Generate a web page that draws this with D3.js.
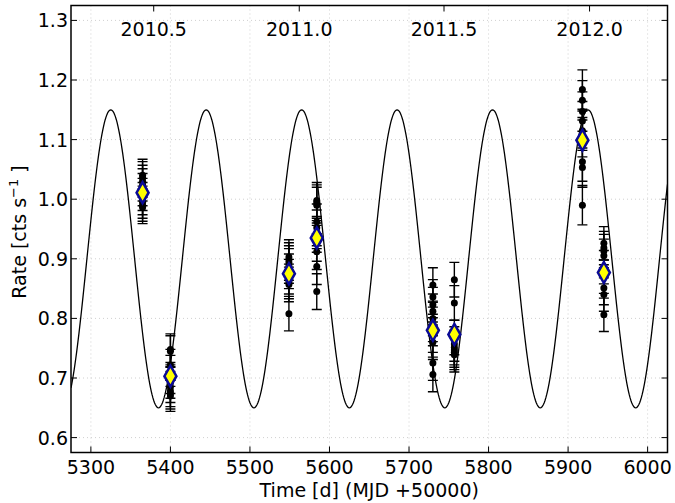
<!DOCTYPE html>
<html>
<head>
<meta charset="utf-8">
<script src="https://cdn.jsdelivr.net/npm/d3@7"></script>
<style>
  body { margin: 0; background: #fff; }
  svg text { font-family: "DejaVu Sans", sans-serif; fill: #000; }
</style>
</head>
<body>
<svg id="chart" width="675" height="503"></svg>
<script>
// observation epochs (MJD - 50000) and the binned mean rate of each
var epochs = [5365, 5400, 5549, 5584, 5730, 5757, 5918, 5945]
var meanRate = [1.011, 0.703, 0.875, 0.935, 0.780, 0.773, 1.099, 0.877]
// individual points per epoch
var rates = [
  [1.040, 1.036, 1.030, 1.024, 1.016, 1.008, 1.001, 0.995, 0.990, 0.986],
  [0.748, 0.745, 0.722, 0.712, 0.700, 0.692, 0.685, 0.678, 0.674, 0.670],
  [0.903, 0.898, 0.893, 0.888, 0.879, 0.870, 0.862, 0.857, 0.808],
  [0.998, 0.994, 0.990, 0.962, 0.952, 0.941, 0.926, 0.912, 0.887, 0.845],
  [0.856, 0.836, 0.823, 0.812, 0.800, 0.790, 0.772, 0.760, 0.725, 0.706],
  [0.865, 0.826, 0.768, 0.757, 0.751, 0.747, 0.743, 0.739],
  [1.184, 1.166, 1.147, 1.131, 1.115, 1.104, 1.063, 1.053, 0.990],
  [0.926, 0.918, 0.913, 0.905, 0.886, 0.870, 0.851, 0.840, 0.806]
]
var rateErr = [0.027, 0.026, 0.029, 0.030, 0.029, 0.029, 0.033, 0.028]
// sinusoidal model: mean, amplitude, period [d], epoch of maximum
var modelMean = 0.9, modelAmp = 0.25, modelPeriod = 120, modelT0 = 5325
// calendar marks on top
var yearLabels = ["2010.5", "2011.0", "2011.5", "2012.0"]
var yearMJD = [5379, 5562, 5744, 5927]
var xTicks = [5300, 5400, 5500, 5600, 5700, 5800, 5900, 6000]
var yTicks = [0.6, 0.7, 0.8, 0.9, 1.0, 1.1, 1.2, 1.3]

var pL = 71, pR = 667.5, pT = 5.5, pB = 452.5
var fs = "19px"
var svg = d3.select("#chart")
var x = d3.scaleLinear().domain([5275, 6025]).range([pL, pR])
var y = d3.scaleLinear().domain([0.575, 1.325]).range([pB, pT])

svg.append("defs").append("clipPath").attr("id", "clip")
  .append("rect").attr("x", pL).attr("y", pT)
  .attr("width", pR - pL).attr("height", pB - pT)

//grid
var grid = svg.append("g")
grid.selectAll(".gx").data(xTicks).enter().append("line")
  .attr("x1", d => x(d)).attr("x2", d => x(d))
  .attr("y1", pT).attr("y2", pB)
grid.selectAll(".gy").data(yTicks).enter().append("line")
  .attr("x1", pL).attr("x2", pR)
  .attr("y1", d => y(d)).attr("y2", d => y(d))
grid.selectAll("line")
  .attr("stroke", "#d0d0d0").attr("stroke-width", 1)
  .attr("stroke-dasharray", "1,3")

var plot = svg.append("g").attr("clip-path", "url(#clip)")

// model curve
var ts = d3.range(5275, 6026, 1)
var model = d3.line()
  .x(d => x(d))
  .y(d => y(modelMean + modelAmp * Math.cos(2 * Math.PI * (d - modelT0) / modelPeriod)))
plot.append("path").datum(ts)
  .attr("d", model)
  .attr("fill", "none").attr("stroke", "#000").attr("stroke-width", 1.3)

// flatten points
var pts = []
epochs.forEach(function(t, i){
  rates[i].forEach(function(r){ pts.push({t: t, r: r, e: rateErr[i]}) })
})

var eb = plot.append("g").attr("stroke", "#000").attr("stroke-width", 1.4)
eb.selectAll(".bar").data(pts).enter().append("line")
  .attr("x1", d => x(d.t)).attr("x2", d => x(d.t))
  .attr("y1", d => y(d.r + d.e)).attr("y2", d => y(d.r - d.e))
eb.selectAll(".capT").data(pts).enter().append("line")
  .attr("x1", d => x(d.t) - 5).attr("x2", d => x(d.t) + 5)
  .attr("y1", d => y(d.r + d.e)).attr("y2", d => y(d.r + d.e))
eb.selectAll(".capB").data(pts).enter().append("line")
  .attr("x1", d => x(d.t) - 5).attr("x2", d => x(d.t) + 5)
  .attr("y1", d => y(d.r - d.e)).attr("y2", d => y(d.r - d.e))

plot.selectAll(".dot").data(pts).enter().append("circle")
  .attr("cx", d => x(d.t)).attr("cy", d => y(d.r)).attr("r", 3.5)
  .attr("fill", "#000")

// mean diamonds
plot.selectAll(".mean").data(epochs).enter().append("path")
  .attr("transform", (d, i) => "translate(" + x(d) + "," + y(meanRate[i]) + ")")
  .attr("d", "M0,-10.5L6,0L0,10.5L-6,0Z")
  .attr("fill", "#ffff00").attr("stroke", "#0a0a96").attr("stroke-width", 2.5)

// frame
svg.append("rect").attr("x", pL).attr("y", pT)
  .attr("width", pR - pL).attr("height", pB - pT)
  .attr("fill", "none").attr("stroke", "#000").attr("stroke-width", 1.5)

// ticks (inward)
var tk = svg.append("g").attr("stroke", "#000").attr("stroke-width", 1)
tk.selectAll(".xb").data(xTicks).enter().append("line")
  .attr("x1", d => x(d)).attr("x2", d => x(d)).attr("y1", pB).attr("y2", pB - 6)
tk.selectAll(".yl").data(yTicks).enter().append("line")
  .attr("x1", pL).attr("x2", pL + 6).attr("y1", d => y(d)).attr("y2", d => y(d))
tk.selectAll(".yr").data(yTicks).enter().append("line")
  .attr("x1", pR).attr("x2", pR - 6).attr("y1", d => y(d)).attr("y2", d => y(d))
tk.selectAll(".xt").data(yearMJD).enter().append("line")
  .attr("x1", d => x(d)).attr("x2", d => x(d)).attr("y1", pT).attr("y2", pT + 6)

// tick labels
svg.selectAll(".xl").data(xTicks).enter().append("text")
  .attr("x", d => x(d)).attr("y", pB + 21)
  .attr("text-anchor", "middle").style("font-size", fs)
  .text(d => d)
svg.selectAll(".yl").data(yTicks).enter().append("text")
  .attr("x", pL - 3).attr("y", d => y(d) + 7)
  .attr("text-anchor", "end").style("font-size", fs)
  .text(d => d3.format(".1f")(d))
svg.selectAll(".yr").data(yearMJD).enter().append("text")
  .attr("x", d => x(d)).attr("y", pT + 30.5)
  .attr("text-anchor", "middle").style("font-size", fs)
  .text((d, i) => yearLabels[i])

// axis labels
svg.append("text").attr("x", (pL + pR) / 2).attr("y", 497)
  .attr("text-anchor", "middle").style("font-size", fs)
  .text("Time [d] (MJD +50000)")
var yl = svg.append("text")
  .attr("transform", "translate(25.5," + ((pT + pB) / 2 + 3) + ") rotate(-90)")
  .attr("text-anchor", "middle").style("font-size", fs)
yl.append("tspan").text("Rate [cts s")
yl.append("tspan").attr("dy", -8).style("font-size", "13px").text("\u22121")
yl.append("tspan").attr("dy", 8).text(" ]")
</script>
</body>
</html>
